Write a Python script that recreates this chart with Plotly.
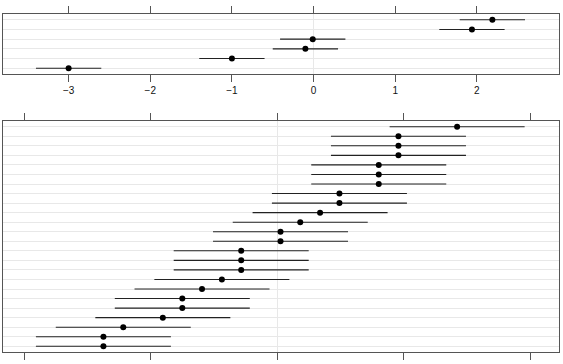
import plotly.graph_objects as go

# Top panel (6 levels, bottom to top)
top_levels = [1, 2, 3, 4, 5, 6]
top_est = [-3.00, -1.00, -0.10, -0.01, 1.94, 2.19]
top_hw = [0.40, 0.40, 0.40, 0.40, 0.40, 0.40]
top_ticks = [-3, -2, -1, 0, 1, 2]

# Bottom panel (24 levels, bottom to top)
bot_levels = list(range(1, 25))
bot_est = [-1.375, -1.375, -1.218, -0.905, -0.751, -0.751, -0.595, -0.438,
           -0.285, -0.285, -0.285, 0.026, 0.026, 0.182, 0.339, 0.492,
           0.492, 0.803, 0.803, 0.803, 0.959, 0.959, 0.959, 1.423]
bot_hw = [0.534] * 24
bot_ticks = [-2, -1, 0, 1, 2]

LINE = "#555555"
GRID = "#e8e8e8"

fig = go.Figure()
fig.add_trace(go.Scatter(
    x=top_est, y=top_levels, mode="markers", xaxis="x", yaxis="y",
    marker=dict(color="black", size=6),
    error_x=dict(type="data", array=top_hw, width=0, color="#222222", thickness=1.1),
    showlegend=False, hoverinfo="skip"))
fig.add_trace(go.Scatter(
    x=bot_est, y=bot_levels, mode="markers", xaxis="x2", yaxis="y2",
    marker=dict(color="black", size=6),
    error_x=dict(type="data", array=bot_hw, width=0, color="#222222", thickness=1.1),
    showlegend=False, hoverinfo="skip"))

H = 364.0
W = 563.0
xdom = [3.3 / W, 558.5 / W]

common_x = dict(showline=True, linecolor=LINE, linewidth=1, mirror="ticks",
                ticks="outside", ticklen=7, tickcolor=LINE, tickwidth=1,
                showgrid=False, zeroline=True, zerolinecolor=GRID, zerolinewidth=1,
                tickfont=dict(family="Liberation Sans, Arial, sans-serif", size=10, color="#111111"))
common_y = dict(showline=True, linecolor=LINE, linewidth=1, mirror=True,
                ticks="", showticklabels=False, showgrid=True, gridcolor=GRID,
                gridwidth=1, zeroline=False, tickmode="linear", tick0=1, dtick=1)

fig.update_layout(
    width=563, height=364, autosize=False,
    margin=dict(l=0, r=0, t=0, b=0),
    paper_bgcolor="white", plot_bgcolor="white",
    xaxis=dict(domain=xdom, anchor="y", range=[-3.80, 3.00],
               tickmode="array", tickvals=top_ticks, **common_x),
    yaxis=dict(domain=[1 - 74 / H, 1 - 14 / H], anchor="x", range=[0.4, 6.6], **common_y),
    xaxis2=dict(domain=xdom, anchor="y2", range=[-2.167, 2.225],
                tickmode="array", tickvals=bot_ticks, showticklabels=False, **common_x),
    yaxis2=dict(domain=[1 - 352 / H, 1 - 121 / H], anchor="x2", range=[0.4, 24.6], **common_y),
)

fig.write_html("out.html")
